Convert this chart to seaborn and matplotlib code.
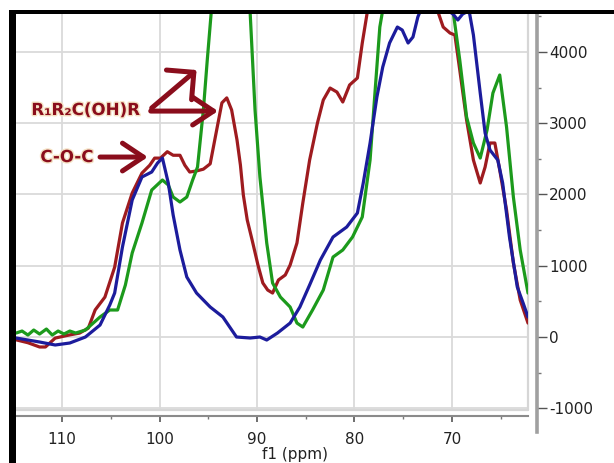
import numpy as np
import pandas as pd
import matplotlib
matplotlib.use("Agg")
import matplotlib.pyplot as plt
import matplotlib.patheffects as pe
from matplotlib.ticker import MultipleLocator, FuncFormatter
from matplotlib.patches import Rectangle
import seaborn as sns

# ---------------- data ----------------
red_ppm = [114.7, 113.5, 112.3, 111.7, 110.7, 109.2, 108.2, 107.3, 106.6, 105.6, 104.6, 103.8,
           102.8, 101.8, 101.0, 100.5, 99.9, 99.2, 98.6, 97.9, 97.4, 96.9, 96.2, 95.5, 94.8,
           94.1, 93.6, 93.1, 92.6, 92.05, 91.7, 91.4, 91.0, 90.5, 89.9, 89.4, 88.9, 88.4, 87.8,
           87.1, 86.6, 85.9, 85.3, 84.6, 83.8, 83.2, 82.5, 81.8, 81.2, 80.5, 79.7, 79.2, 78.7,
           77.5, 75.5, 73.5, 72.2, 71.5, 70.9, 70.2, 69.7, 69.2, 68.5, 67.8, 67.1, 66.6, 66.1,
           65.6, 65.1, 64.4, 63.7, 63.0, 62.2]
red_int = [-40, -80, -140, -140, -15, 30, 55, 125, 380, 560, 980, 1600,
           2020, 2300, 2410, 2510, 2510, 2600, 2550, 2550, 2410, 2315, 2330, 2355, 2430,
           2930, 3285, 3355, 3185, 2765, 2413, 1992, 1642, 1361, 1010, 758, 659, 617, 800,
           870, 1010, 1319, 1880, 2483, 3002, 3325, 3493, 3437, 3297, 3536, 3634, 4125, 4546,
           6000, 7500, 7000, 5200, 4588, 4349, 4265, 4237, 3746, 3045, 2483, 2161, 2385, 2722,
           2722, 2343, 1782, 1038, 519, 196]

green_ppm = [114.7, 114.1, 113.5, 112.9, 112.3, 111.6, 111.0, 110.4, 109.8, 109.2, 108.6, 107.6,
             106.1, 105.1, 104.3, 103.5, 102.8, 101.8, 100.8, 99.7, 99.1, 98.6, 97.9, 97.2,
             96.6, 96.1, 95.5, 95.1, 94.7, 93.5, 92.5, 91.5, 90.7, 90.2, 89.7, 89.0, 88.4,
             87.6, 86.6, 85.9, 85.3, 84.3, 83.2, 82.2, 81.2, 80.2, 79.2, 78.4, 77.9, 77.4,
             77.1, 75.0, 73.0, 71.0, 69.9, 69.2, 68.5, 67.8, 67.1, 66.4, 65.8, 65.1, 64.4,
             63.7, 63.0, 62.2]
green_int = [56, 84, 28, 98, 42, 112, 28, 84, 42, 84, 56, 98,
             281, 379, 379, 730, 1179, 1599, 2062, 2203, 2133, 1964, 1894, 1964,
             2203, 2385, 3185, 3886, 4546, 7000, 9000, 7000, 4546, 3185, 2245, 1319, 758,
             561, 421, 196, 140, 379, 659, 1122, 1221, 1403, 1684, 2483, 3423, 4349,
             4588, 7000, 8000, 6000, 4588, 3886, 3087, 2722, 2511, 2904, 3423, 3676, 2946,
             1964, 1221, 617]

blue_ppm = [114.7, 113.5, 112.3, 110.7, 109.2, 107.6, 106.1, 105.1, 104.6, 103.8, 102.8, 101.8,
            100.8, 100.2, 99.7, 99.1, 98.6, 97.9, 97.2, 96.2, 94.8, 93.5, 92.1, 90.7, 89.7,
            89.0, 87.9, 86.6, 85.6, 84.6, 83.5, 82.2, 80.8, 79.7, 79.1, 78.4, 77.7, 77.1,
            76.4, 75.6, 75.1, 74.5, 74.0, 73.5, 73.2, 72.5, 71.5, 70.7, 70.2, 69.9, 69.4,
            68.9, 68.5, 68.2, 67.8, 67.1, 66.6, 66.1, 65.3, 64.8, 64.1, 63.3, 62.7, 62.2]
blue_int = [-14, -42, -70, -112, -84, 0, 168, 449, 617, 1263, 1922, 2245,
            2315, 2441, 2511, 2161, 1712, 1221, 842, 617, 421, 281, 0, -14, 0,
            -42, 56, 196, 421, 730, 1080, 1403, 1543, 1740, 2161, 2722, 3367, 3788,
            4125, 4349, 4307, 4125, 4209, 4490, 4588, 5200, 5400, 5000, 4560, 4532, 4448,
            4532, 4560, 4546, 4237, 3423, 2862, 2624, 2483, 2161, 1403, 702, 477, 281]

series_names = ["red", "green", "blue"]
series_colors = ["#9e1b1f", "#1c9a1c", "#1c1c9c"]

x_ticks = [110, 100, 90, 80, 70]
y_ticks = [-1000, 0, 1000, 2000, 3000, 4000]

label_roh = "R\u2081R\u2082C(OH)R"
label_coc = "C-O-C"
x_label = "f1 (ppm)"

# ---------------- figure ----------------
sns.set_theme(style="white")
plt.rcParams["font.family"] = ["DejaVu Sans"]
plt.rcParams["axes.unicode_minus"] = False

W, H = 614, 463
fig = plt.figure(figsize=(W / 100, H / 100), dpi=100)
fig.patch.set_facecolor("white")
ax = fig.add_axes([16 / W, 1 - 410 / H, (528 - 16) / W, (410 - 14) / H])

df = pd.concat([
    pd.DataFrame({"ppm": red_ppm, "intensity": red_int, "sample": series_names[0]}),
    pd.DataFrame({"ppm": green_ppm, "intensity": green_int, "sample": series_names[1]}),
    pd.DataFrame({"ppm": blue_ppm, "intensity": blue_int, "sample": series_names[2]}),
], ignore_index=True)

sns.lineplot(data=df, x="ppm", y="intensity", hue="sample",
             palette=dict(zip(series_names, series_colors)),
             estimator=None, sort=False, linewidth=2.3, legend=False, ax=ax)

XL = (114.72, 62.2)
YL = (-1024, 4532)
ax.set_xlim(*XL)
ax.set_ylim(*YL)

# grid
ax.set_xticks(x_ticks)
ax.set_yticks(y_ticks)
ax.xaxis.set_minor_locator(MultipleLocator(5))
ax.yaxis.set_minor_locator(MultipleLocator(500))
ax.grid(True, which="major", color="#dadada", linewidth=1.3)
ax.set_axisbelow(True)

# light frame lines on right and bottom of the plot area
ax.plot([XL[1], XL[1]], [YL[0], YL[1]], color="#d6d6d6", lw=1.6, clip_on=False, zorder=1)
ax.plot([XL[0], XL[1]], [YL[0], YL[0]], color="#d6d6d6", lw=1.6, clip_on=False, zorder=1)

# spines
ax.spines["left"].set_visible(False)
ax.spines["top"].set_visible(False)
ax.spines["right"].set_visible(True)
ax.spines["right"].set_position(("outward", 6.5))
ax.spines["right"].set_color("#a0a0a0")
ax.spines["right"].set_linewidth(2.6)
ax.spines["right"].set_bounds(-1333, YL[1])
ax.spines["bottom"].set_visible(True)
ax.spines["bottom"].set_position(("outward", 4.3))
ax.spines["bottom"].set_color("#8a8a8a")
ax.spines["bottom"].set_linewidth(1.5)

ax.yaxis.tick_right()
ax.tick_params(axis="y", which="major", direction="out", length=7.5, width=1.0,
               color="#555555", labelsize=11, labelcolor="#222222", pad=1,
               right=True, left=False)
ax.tick_params(axis="y", which="minor", direction="out", length=3, width=1.0,
               color="#777777", right=True, left=False)
ax.tick_params(axis="x", which="major", direction="out", length=4.5, width=1.2,
               color="#555555", labelsize=11, labelcolor="#222222", pad=7, bottom=True)
ax.tick_params(axis="x", which="minor", direction="out", length=2.5, width=1.0,
               color="#777777", bottom=True)
ax.yaxis.set_major_formatter(FuncFormatter(lambda v, p: f"{int(v)}"))
ax.xaxis.set_major_formatter(FuncFormatter(lambda v, p: f"{int(v)}"))

ax.set_ylabel("")
ax.set_xlabel(x_label, fontsize=11, color="#222222", va="bottom")
ax.xaxis.set_label_coords(0.545, -(462 - 410) / 396)

# annotations
ann_color = "#8a0d1c"
halo = [pe.withStroke(linewidth=2, foreground="#f5e2c4")]
ax.text(107.6, 3185, label_roh, color=ann_color, fontsize=12, fontweight="bold",
        ha="center", va="center", path_effects=halo, zorder=6)
ax.text(109.5, 2525, label_coc, color=ann_color, fontsize=12, fontweight="bold",
        ha="center", va="center", path_effects=halo, zorder=6)

arrow_h = dict(arrowstyle="->,head_length=0.75,head_width=0.5", lw=3.6, color=ann_color,
               mutation_scale=20, shrinkA=0, shrinkB=0)
arrow_d = dict(arrowstyle="->,head_length=0.7,head_width=0.7", lw=3.6, color=ann_color,
               mutation_scale=20, shrinkA=0, shrinkB=0)
ax.annotate("", xy=(94.0, 3170), xytext=(100.9, 3170), arrowprops=arrow_h, zorder=6)
ax.annotate("", xy=(96.2, 3746), xytext=(100.8, 3213), arrowprops=arrow_d, zorder=6)
ax.annotate("", xy=(101.2, 2525), xytext=(106.1, 2525), arrowprops=arrow_h, zorder=6)

# black frame of the screenshot (left and top)
fig.add_artist(Rectangle((9 / W, 0), 7 / W, (H - 10) / H, transform=fig.transFigure,
                         facecolor="black", edgecolor="none", zorder=10))
fig.add_artist(Rectangle((9 / W, 1 - 14 / H), (W - 9) / W, 4 / H, transform=fig.transFigure,
                         facecolor="black", edgecolor="none", zorder=10))

fig.savefig("out.png", dpi=100)
